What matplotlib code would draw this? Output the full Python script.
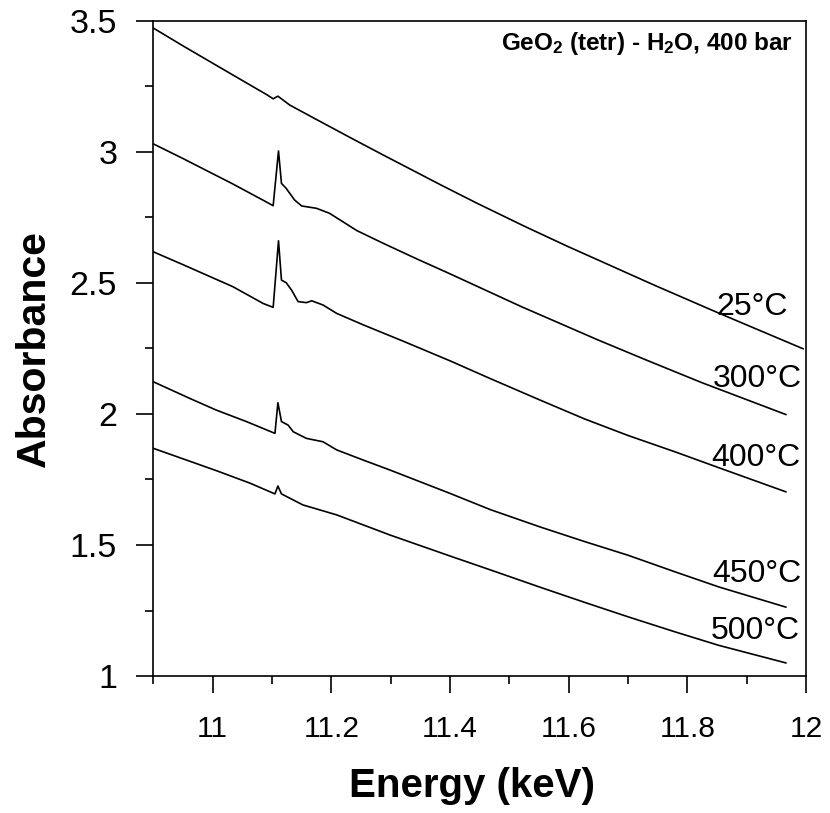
"""
plot.py
=======
Espectros de absorbancia GeO2 (tetr) - H2O a 400 bar, borde K del Ge.
"""

import matplotlib
matplotlib.use("Agg")
import matplotlib.pyplot as plt
from matplotlib.ticker import MultipleLocator, FuncFormatter

plt.rcParams["font.family"] = ["Liberation Sans", "DejaVu Sans"]
plt.rcParams["mathtext.fontset"] = "custom"
plt.rcParams["mathtext.rm"] = "Liberation Sans:bold"
plt.rcParams["mathtext.it"] = "Liberation Sans:bold"
plt.rcParams["mathtext.bf"] = "Liberation Sans:bold"
plt.rcParams["mathtext.default"] = "rm"


# --------------------------------------------------------------------------- #
#  Datos                                                #
# --------------------------------------------------------------------------- #
e_25 = [10.90, 10.95, 11.034, 11.091, 11.102, 11.110, 11.130, 11.175, 11.231,
        11.287, 11.344, 11.383, 11.445, 11.525, 11.598, 11.746, 11.853, 11.995]
a_25 = [3.473, 3.405, 3.294, 3.219, 3.203, 3.213, 3.179, 3.124, 3.056,
        2.989, 2.922, 2.876, 2.805, 2.717, 2.640, 2.490, 2.385, 2.249]

e_300 = [10.90, 10.95, 11.034, 11.085, 11.102, 11.111, 11.116, 11.124, 11.138,
         11.150, 11.175, 11.197, 11.243, 11.287, 11.344, 11.40, 11.52, 11.649,
         11.734, 11.824, 11.966]
a_300 = [3.031, 2.975, 2.878, 2.816, 2.795, 3.004, 2.880, 2.861, 2.817,
         2.794, 2.785, 2.766, 2.700, 2.652, 2.592, 2.535, 2.410, 2.283,
         2.203, 2.120, 1.998]

e_400 = [10.90, 10.95, 11.034, 11.085, 11.102, 11.111, 11.116, 11.124, 11.133,
         11.144, 11.158, 11.167, 11.186, 11.209, 11.254, 11.321, 11.40, 11.468,
         11.553, 11.627, 11.700, 11.780, 11.853, 11.966]
a_400 = [2.619, 2.570, 2.486, 2.422, 2.407, 2.661, 2.511, 2.501, 2.473,
         2.429, 2.425, 2.432, 2.416, 2.384, 2.340, 2.278, 2.203, 2.135,
         2.052, 1.981, 1.918, 1.855, 1.795, 1.703]

e_450 = [10.90, 10.961, 11.006, 11.057, 11.105, 11.110, 11.116, 11.127, 11.136,
         11.158, 11.186, 11.209, 11.254, 11.299, 11.40, 11.468, 11.553, 11.627,
         11.700, 11.780, 11.853, 11.966]
a_450 = [2.123, 2.060, 2.015, 1.971, 1.926, 2.043, 1.971, 1.958, 1.932,
         1.907, 1.894, 1.863, 1.824, 1.786, 1.697, 1.635, 1.568, 1.513,
         1.461, 1.397, 1.340, 1.263]

e_500 = [10.90, 11.006, 11.063, 11.105, 11.110, 11.116, 11.152, 11.209, 11.299,
         11.40, 11.468, 11.553, 11.627, 11.700, 11.780, 11.853, 11.966]
a_500 = [1.869, 1.784, 1.736, 1.695, 1.725, 1.695, 1.653, 1.615, 1.538,
         1.458, 1.405, 1.338, 1.281, 1.226, 1.168, 1.117, 1.050]

etiquetas = ["25°C", "300°C", "400°C", "450°C", "500°C"]
etiq_x = [11.909, 11.918, 11.915, 11.918, 11.914]
etiq_y = [2.378, 2.103, 1.802, 1.359, 1.141]


# --------------------------------------------------------------------------- #
#  Figura                                                                     #
# --------------------------------------------------------------------------- #
fig = plt.figure(figsize=(8.3, 8.13), dpi=100)
ax = fig.add_axes([0.1847, 0.1685, 0.7864, 0.8057])

for e, a in [(e_25, a_25), (e_300, a_300), (e_400, a_400),
             (e_450, a_450), (e_500, a_500)]:
    ax.plot(e, a, color="black", linewidth=1.2)

for txt, x, y in zip(etiquetas, etiq_x, etiq_y):
    ax.text(x, y, txt, ha="center", va="baseline", fontsize=23)

ax.text(0.979, 0.956, r"GeO$_2$ (tetr) - H$_2$O, 400 bar",
        transform=ax.transAxes, ha="right", va="baseline",
        fontsize=17.5, fontweight="bold")

ax.set_xlim(10.9, 12.0)
ax.set_ylim(1.0, 3.5)
ax.xaxis.set_major_locator(MultipleLocator(0.2))
ax.xaxis.set_minor_locator(MultipleLocator(0.1))
ax.yaxis.set_major_locator(MultipleLocator(0.5))
ax.yaxis.set_minor_locator(MultipleLocator(0.25))
fmt = FuncFormatter(lambda v, p: f"{v:g}")
ax.xaxis.set_major_formatter(fmt)
ax.yaxis.set_major_formatter(fmt)

ax.tick_params(which="both", direction="out", width=1.2, top=False, right=False)
ax.tick_params(which="major", length=12)
ax.tick_params(which="minor", length=6)
ax.tick_params(axis="x", which="major", labelsize=21.5, pad=16)
ax.tick_params(axis="y", which="major", labelsize=24.5, pad=14)
for sp in ax.spines.values():
    sp.set_linewidth(1.2)

ax.set_xlabel("Energy (keV)", fontsize=29, fontweight="bold")
ax.set_ylabel("Absorbance", fontsize=29.5, fontweight="bold")
ax.xaxis.set_label_coords(0.488, -0.139)
ax.yaxis.set_label_coords(-0.153, 0.5)

fig.savefig("out.png", dpi=100)
plt.close(fig)
